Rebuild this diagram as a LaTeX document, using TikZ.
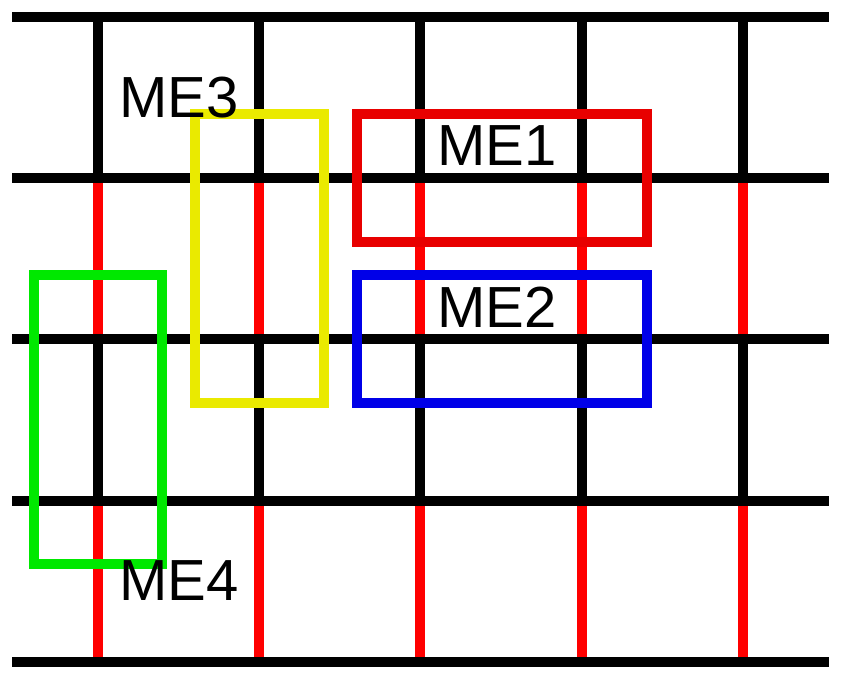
\documentclass[tikz,border=0pt]{standalone}
\usepackage{fontspec}
\setmainfont{Liberation Sans}
\usepackage{xcolor}
\definecolor{wirered}{RGB}{255,0,0}
\definecolor{mered}{RGB}{232,0,0}
\definecolor{meblue}{RGB}{0,0,232}
\definecolor{meyellow}{RGB}{234,234,0}
\definecolor{megreen}{RGB}{0,232,0}

\begin{document}
\begin{tikzpicture}[
    x=1pt,y=-1pt,
    wire/.style={line width=9.5pt},
    mebox/.style={line width=9.5pt},
    melbl/.style={font=\fontsize{58}{60}\selectfont,anchor=base,inner sep=0pt},
]
\useasboundingbox (0,0) rectangle (841,678);
% vertical lines, black and red parts
\draw[wire,black] (98,17) -- (98,178) (98,339) -- (98,501)
    (259,17) -- (259,178) (259,339) -- (259,501)
    (420,17) -- (420,178) (420,339) -- (420,501)
    (582,17) -- (582,178) (582,339) -- (582,501)
    (743,17) -- (743,178) (743,339) -- (743,501);
\draw[wire,wirered] (98,178) -- (98,339) (98,501) -- (98,662)
    (259,178) -- (259,339) (259,501) -- (259,662)
    (420,178) -- (420,339) (420,501) -- (420,662)
    (582,178) -- (582,339) (582,501) -- (582,662)
    (743,178) -- (743,339) (743,501) -- (743,662);
% horizontal lines
\draw[wire,black] (12,17) -- (829,17) (12,178) -- (829,178)
    (12,339) -- (829,339) (12,501) -- (829,501) (12,662) -- (829,662);
% boxes
\draw[mebox,mered]    (357,114) rectangle (647,242);
\draw[mebox,meblue]   (357,275) rectangle (647,403);
\draw[mebox,meyellow] (195,114) rectangle (324,403);
\draw[mebox,megreen]  (34,275)  rectangle (162,564);
% labels
\node[melbl] (me1) at (497,165) {ME1};
\node[melbl] (me2) at (497,327) {ME2};
\node[melbl] (me3) at (179,117) {ME3};
\node[melbl] (me4) at (179,600) {ME4};
\end{tikzpicture}
\end{document}
